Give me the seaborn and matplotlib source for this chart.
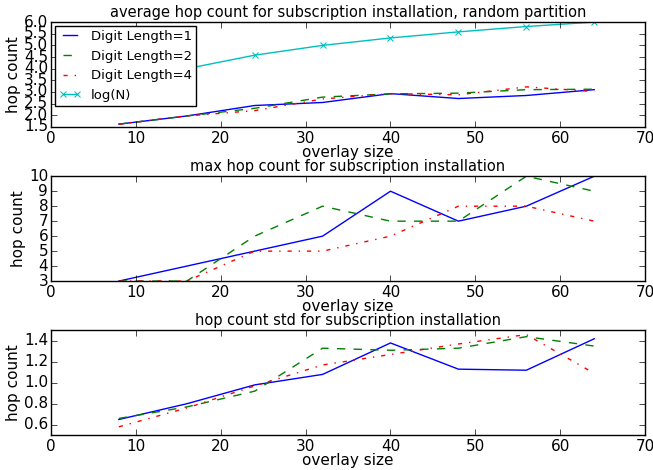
import matplotlib
matplotlib.use('Agg')
import matplotlib.pyplot as plt
import seaborn as sns

# overlay sizes
sizes = [8, 16, 24, 32, 40, 48, 56, 64]

# average hop count
avg_d1 = [1.62, 1.97, 2.42, 2.55, 2.93, 2.72, 2.85, 3.10]
avg_d2 = [1.62, 1.97, 2.30, 2.78, 2.92, 2.95, 3.10, 3.12]
avg_d4 = [1.62, 1.97, 2.20, 2.70, 2.93, 2.88, 3.22, 3.02]
avg_log = [3.0, 4.0, 4.58, 5.0, 5.32, 5.58, 5.81, 6.0]

# max hop count
max_d1 = [3, 4, 5, 6, 9, 7, 8, 10]
max_d2 = [3, 3, 6, 8, 7, 7, 10, 9]
max_d4 = [3, 3, 5, 5, 6, 8, 8, 7]

# std of hop count
std_d1 = [0.65, 0.80, 0.98, 1.08, 1.38, 1.13, 1.12, 1.42]
std_d2 = [0.66, 0.77, 0.92, 1.33, 1.31, 1.33, 1.44, 1.35]
std_d4 = [0.58, 0.76, 0.97, 1.17, 1.27, 1.37, 1.46, 1.09]

plt.style.use('classic')
plt.rcParams['font.family'] = ['DejaVu Sans']

fig, axes = plt.subplots(3, 1, figsize=(6.53, 4.70), dpi=100)
fig.patch.set_facecolor('white')
fig.subplots_adjust(left=0.078, right=0.988, top=0.953, bottom=0.074, hspace=0.47)

series = [
    ('Digit Length=1', 'b', '-'),
    ('Digit Length=2', 'g', '--'),
    ('Digit Length=4', 'r', '-.'),
]

panels = [
    ('average hop count for subscription installation, random partition',
     [avg_d1, avg_d2, avg_d4]),
    ('max hop count for subscription installation', [max_d1, max_d2, max_d4]),
    ('hop count std for subscription installation', [std_d1, std_d2, std_d4]),
]

for ax, (title, ys) in zip(axes, panels):
    for (label, color, ls), y in zip(series, ys):
        sns.lineplot(x=sizes, y=y, ax=ax, color=color, linestyle=ls,
                     label=label, linewidth=1)
    ax.set_title(title, fontsize=10.5, pad=4)
    ax.set_xlabel('overlay size', fontsize=11, labelpad=-1)
    ax.set_ylabel('hop count', fontsize=11, labelpad=2)
    ax.set_xlim(0, 70)
    ax.tick_params(axis='x', labelsize=11, pad=3)
    ax.tick_params(axis='y', labelsize=11, pad=2)

sns.lineplot(x=sizes, y=avg_log, ax=axes[0], color='c', marker='x',
             markeredgecolor='c', markersize=5, label='log(N)', linewidth=1)
axes[0].set_ylim(1.5, 6.0)
axes[0].set_yticks([1.5, 2.0, 2.5, 3.0, 3.5, 4.0, 4.5, 5.0, 5.5, 6.0])
axes[0].legend(loc='upper left', fontsize=9.5, handlelength=1.7,
               handletextpad=0.7, borderpad=0.3, borderaxespad=0.3)

axes[1].set_ylim(3, 10)
axes[1].set_yticks(range(3, 11))
axes[1].get_legend().remove()

axes[2].set_ylim(0.5, 1.5)
axes[2].set_yticks([0.6, 0.8, 1.0, 1.2, 1.4])
axes[2].get_legend().remove()

plt.savefig('out.png', dpi=100, facecolor='white')
plt.close(fig)
